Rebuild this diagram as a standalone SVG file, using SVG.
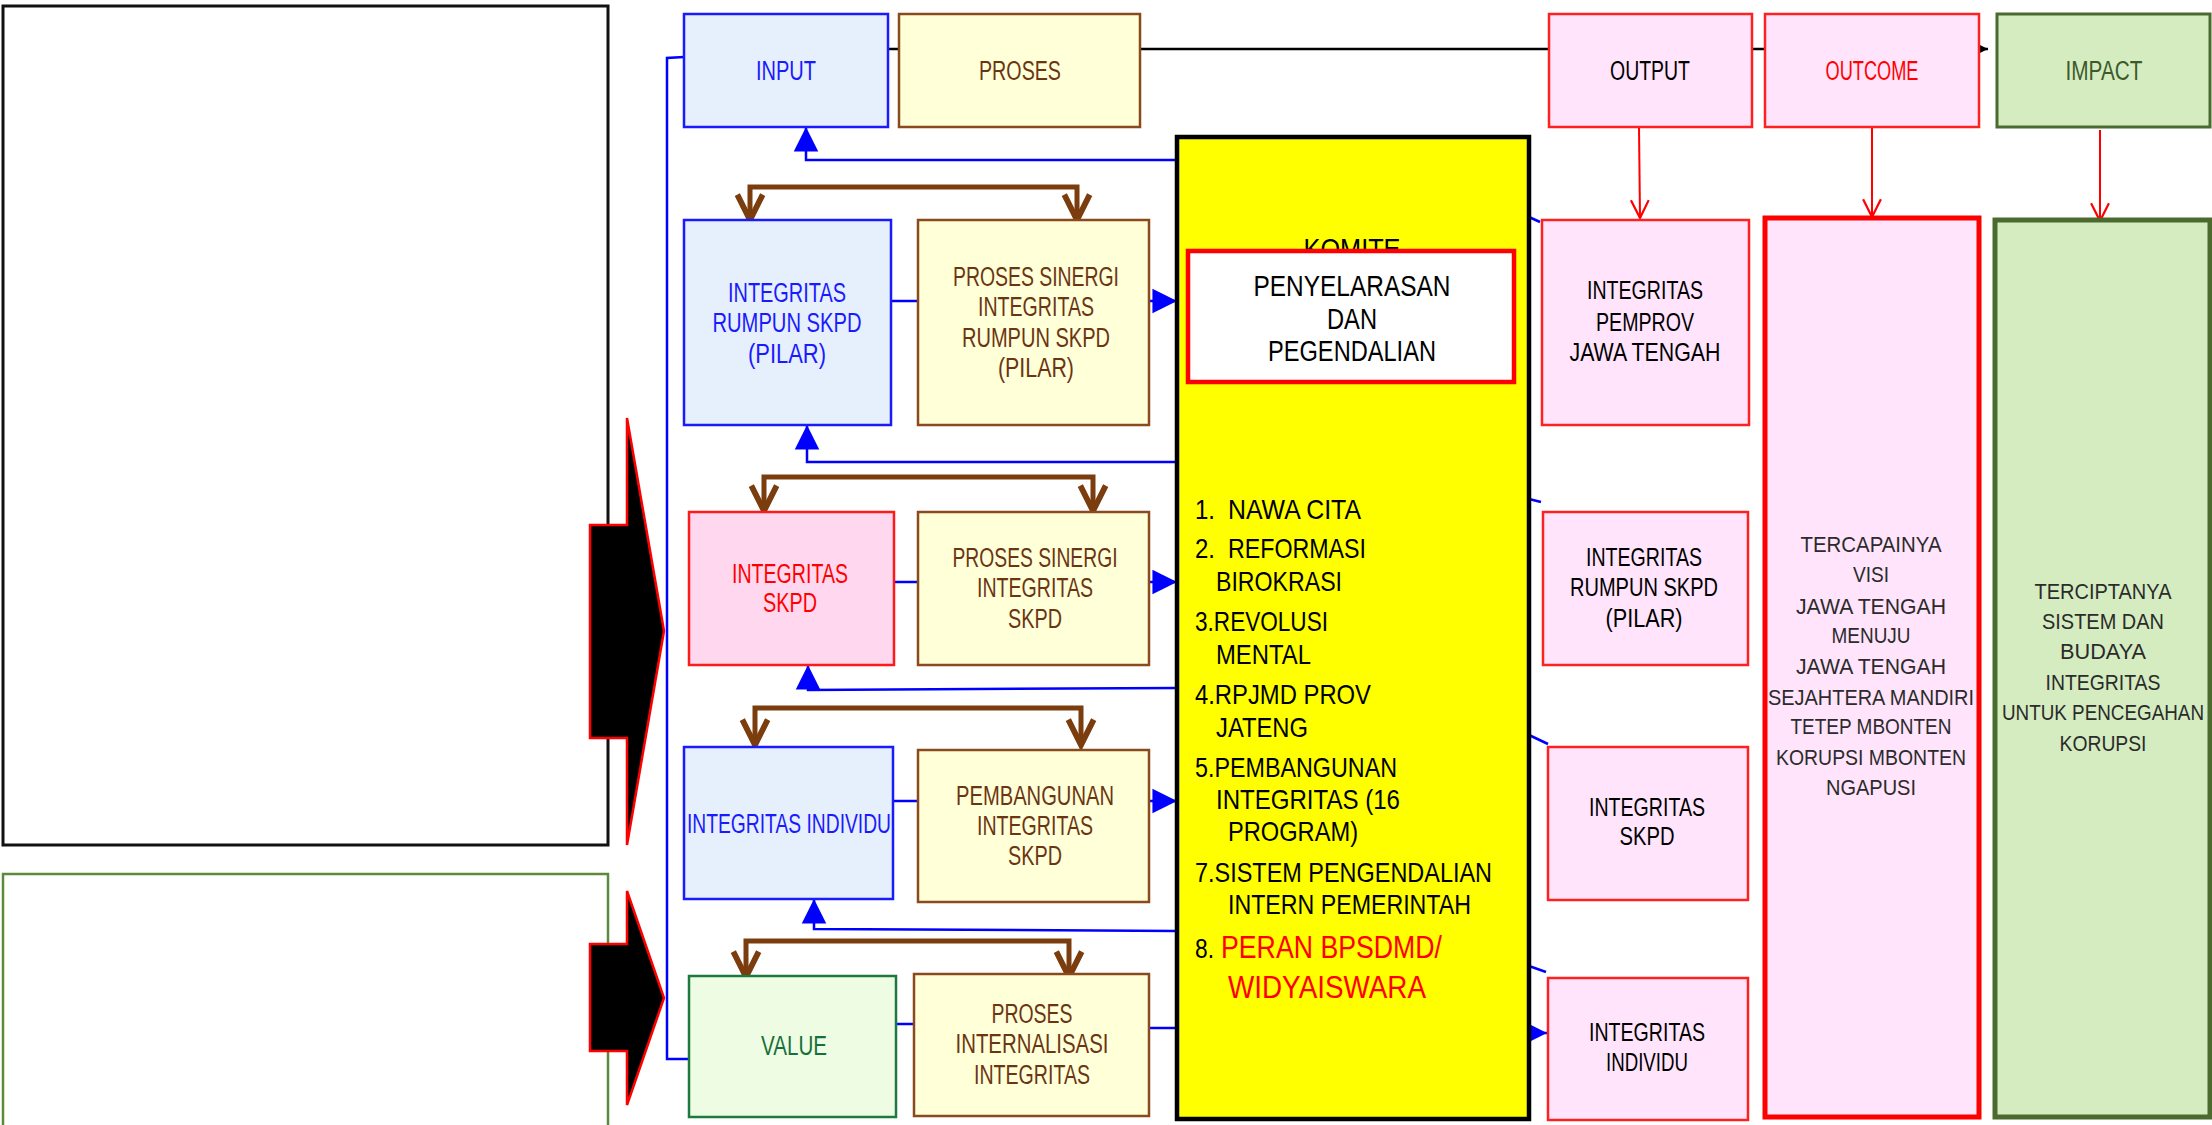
<svg xmlns="http://www.w3.org/2000/svg" width="2212" height="1125" viewBox="0 0 2212 1125">
<style>
text{font-family:"Liberation Sans",Arial,sans-serif;}
.t{font-size:27px;text-anchor:middle;}
.tr{font-size:25px;text-anchor:middle;fill:#000;}
.tl{font-size:28px;fill:#000;}
.ts{font-size:22px;text-anchor:middle;fill:#2b2b2b;}
.blue{fill:#1a1aff;}
.brown{fill:#6b3513;}
.bx{fill:#e6f0fd;stroke:#1a1aff;stroke-width:2.5;}
.px{fill:#ffffd8;stroke:#8b4a1e;stroke-width:2.5;}
.pk{fill:#ffe4fc;stroke:#ff2020;stroke-width:2.5;}
.cb{fill:none;stroke:#0000ff;stroke-width:2.5;}
.cbr{fill:none;stroke:#7b3c0e;stroke-width:5;marker-start:url(#mv);marker-end:url(#mv);}
.cr{fill:none;stroke:#ff0000;stroke-width:2;marker-end:url(#mr);}
.ca{marker-end:url(#mb);}
</style>
<defs>
<marker id="mb" markerUnits="userSpaceOnUse" markerWidth="30" markerHeight="30" refX="0" refY="0" viewBox="-20 -10 22 20" orient="auto" overflow="visible"><path d="M-18,-9 L0,0 L-18,9 Z" fill="#0000ff"/></marker>
<marker id="mv" markerUnits="userSpaceOnUse" markerWidth="30" markerHeight="30" refX="0" refY="0" viewBox="-22 -13 24 26" orient="auto-start-reverse" overflow="visible"><path d="M-22,-11 L0,0 L-22,11" fill="none" stroke="#7b3c0e" stroke-width="5"/></marker>
<marker id="mr" markerUnits="userSpaceOnUse" markerWidth="20" markerHeight="20" refX="0" refY="0" viewBox="-17 -9 18 18" orient="auto" overflow="visible"><path d="M-16,-8 L0,0 L-16,8" fill="none" stroke="#ff0000" stroke-width="2"/></marker>
<marker id="mk" markerUnits="userSpaceOnUse" markerWidth="12" markerHeight="12" refX="0" refY="0" viewBox="-9 -5 10 10" orient="auto" overflow="visible"><path d="M-8,-4 L0,0 L-8,4 Z" fill="#000"/></marker>
</defs>

<g id="left-panels">
<rect x="3" y="6" width="605" height="839" fill="#fff" stroke="#111" stroke-width="3"/>
<rect x="3" y="874" width="605" height="270" fill="#fff" stroke="#5b8a3c" stroke-width="2.5"/>
</g>
<g id="big-arrows" fill="#000" stroke="#ff0000" stroke-width="2.5">
<polygon points="590,525 627,525 627,418 664,631 627,845 627,738 590,738"/>
<polygon points="590,944 627,944 627,891 664,998 627,1105 627,1051 590,1051"/>
</g>

<g id="connectors">
<line x1="888" y1="49" x2="1988" y2="49" stroke="#000" stroke-width="2.5" marker-end="url(#mk)"/>
<polyline class="cb" points="684,57 667,58 667,1059 689,1059"/>
<polyline class="cb ca" points="1177,160 806,160 806,127"/>
<polyline class="cb ca" points="1177,462 807,462 807,425"/>
<polyline class="cb ca" points="1177,688 808,690 808,665"/>
<polyline class="cb ca" points="1177,931 814,929 814,899"/>
<line class="cb" x1="891" y1="301" x2="918" y2="301"/>
<line class="cb ca" x1="1149" y1="301" x2="1177" y2="301"/>
<line class="cb" x1="894" y1="582" x2="918" y2="582"/>
<line class="cb ca" x1="1149" y1="582" x2="1177" y2="582"/>
<line class="cb" x1="893" y1="801" x2="918" y2="801"/>
<line class="cb ca" x1="1149" y1="801" x2="1177" y2="801"/>
<line class="cb" x1="896" y1="1024" x2="914" y2="1024"/>
<line class="cb" x1="1149" y1="1028" x2="1177" y2="1028"/>
<line class="cb" x1="1529" y1="217" x2="1540" y2="222"/>
<line class="cb" x1="1529" y1="499" x2="1541" y2="502"/>
<line class="cb" x1="1529" y1="735" x2="1548" y2="744"/>
<line class="cb" x1="1529" y1="966" x2="1546" y2="972"/>
<line class="cb ca" x1="1529" y1="1033" x2="1547" y2="1033"/>
<path class="cbr" d="M750,220 L750,187 L1077,187 L1077,220"/>
<path class="cbr" d="M764,511 L764,477 L1093,477 L1093,511"/>
<path class="cbr" d="M755,745 L755,708 L1081,708 L1081,745"/>
<path class="cbr" d="M746,977 L746,941 L1069,941 L1069,977"/>
<line class="cr" x1="1639" y1="127" x2="1640" y2="218"/>
<line class="cr" x1="1872" y1="127" x2="1872" y2="217"/>
<line class="cr" x1="2100" y1="130" x2="2100" y2="221"/>
</g>

<g id="input"><rect class="bx" x="684" y="14" width="204" height="113"/><text class="t blue" x="786" y="80" textLength="60" lengthAdjust="spacingAndGlyphs">INPUT</text></g>
<g id="proses"><rect class="px" x="899" y="14" width="241" height="113"/><text class="t brown" x="1020" y="80" textLength="82" lengthAdjust="spacingAndGlyphs">PROSES</text></g>
<g id="output"><rect class="pk" x="1549" y="14" width="203" height="113"/><text class="t" x="1650" y="80" textLength="80" lengthAdjust="spacingAndGlyphs">OUTPUT</text></g>
<g id="outcome"><rect class="pk" x="1765" y="14" width="214" height="113"/><text class="t" x="1872" y="80" fill="#ff0000" textLength="93" lengthAdjust="spacingAndGlyphs">OUTCOME</text></g>
<g id="impact"><rect x="1997" y="14" width="213" height="113" fill="#d4ecc0" stroke="#4b6b2e" stroke-width="3"/><text class="t" x="2104" y="80" fill="#3d5a2a" textLength="77" lengthAdjust="spacingAndGlyphs">IMPACT</text></g>

<g id="integritas-rumpun"><rect class="bx" x="684" y="220" width="207" height="205"/>
<text class="t blue" x="787" y="302" textLength="118" lengthAdjust="spacingAndGlyphs">INTEGRITAS</text>
<text class="t blue" x="787" y="332" textLength="149" lengthAdjust="spacingAndGlyphs">RUMPUN SKPD</text>
<text class="t blue" x="787" y="363" textLength="78" lengthAdjust="spacingAndGlyphs">(PILAR)</text></g>
<g id="proses-sinergi-rumpun"><rect class="px" x="918" y="220" width="231" height="205"/>
<text class="t brown" x="1036" y="286" textLength="166" lengthAdjust="spacingAndGlyphs">PROSES SINERGI</text>
<text class="t brown" x="1036" y="316" textLength="116" lengthAdjust="spacingAndGlyphs">INTEGRITAS</text>
<text class="t brown" x="1036" y="347" textLength="148" lengthAdjust="spacingAndGlyphs">RUMPUN SKPD</text>
<text class="t brown" x="1036" y="377" textLength="76" lengthAdjust="spacingAndGlyphs">(PILAR)</text></g>

<g id="integritas-skpd"><rect x="689" y="512" width="205" height="153" fill="#ffd8ef" stroke="#ff1a1a" stroke-width="2.5"/>
<text class="t" x="790" y="583" fill="#ff0000" textLength="116" lengthAdjust="spacingAndGlyphs">INTEGRITAS</text>
<text class="t" x="790" y="612" fill="#ff0000" textLength="54" lengthAdjust="spacingAndGlyphs">SKPD</text></g>
<g id="proses-sinergi-skpd"><rect class="px" x="918" y="512" width="231" height="153"/>
<text class="t brown" x="1035" y="567" textLength="165" lengthAdjust="spacingAndGlyphs">PROSES SINERGI</text>
<text class="t brown" x="1035" y="597" textLength="116" lengthAdjust="spacingAndGlyphs">INTEGRITAS</text>
<text class="t brown" x="1035" y="628" textLength="54" lengthAdjust="spacingAndGlyphs">SKPD</text></g>

<g id="integritas-individu"><rect class="bx" x="684" y="747" width="209" height="152"/>
<text class="t blue" x="789" y="833" textLength="204" lengthAdjust="spacingAndGlyphs">INTEGRITAS INDIVIDU</text></g>
<g id="pembangunan"><rect class="px" x="918" y="750" width="231" height="152"/>
<text class="t brown" x="1035" y="805" textLength="158" lengthAdjust="spacingAndGlyphs">PEMBANGUNAN</text>
<text class="t brown" x="1035" y="835" textLength="116" lengthAdjust="spacingAndGlyphs">INTEGRITAS</text>
<text class="t brown" x="1035" y="865" textLength="54" lengthAdjust="spacingAndGlyphs">SKPD</text></g>

<g id="value"><rect x="689" y="976" width="207" height="141" fill="#effce4" stroke="#1d7a3e" stroke-width="2.5"/>
<text class="t" x="794" y="1055" fill="#17703a" textLength="66" lengthAdjust="spacingAndGlyphs">VALUE</text></g>
<g id="proses-internalisasi"><rect class="px" x="914" y="974" width="235" height="142"/>
<text class="t brown" x="1032" y="1023" textLength="81" lengthAdjust="spacingAndGlyphs">PROSES</text>
<text class="t brown" x="1032" y="1053" textLength="153" lengthAdjust="spacingAndGlyphs">INTERNALISASI</text>
<text class="t brown" x="1032" y="1084" textLength="116" lengthAdjust="spacingAndGlyphs">INTEGRITAS</text></g>

<g id="komite"><rect x="1177" y="137" width="352" height="982" fill="#ffff00" stroke="#000" stroke-width="4.5"/>
<text x="1352" y="259" font-size="30" text-anchor="middle" fill="#000" textLength="97" lengthAdjust="spacingAndGlyphs">KOMITE</text>
<text class="tl" x="1195" y="519" textLength="20" lengthAdjust="spacingAndGlyphs" font-weight="300">1.</text>
<text class="tl" x="1228" y="519" textLength="133" lengthAdjust="spacingAndGlyphs">NAWA CITA</text>
<text class="tl" x="1195" y="558" textLength="20" lengthAdjust="spacingAndGlyphs">2.</text>
<text class="tl" x="1228" y="558" textLength="138" lengthAdjust="spacingAndGlyphs">REFORMASI</text>
<text class="tl" x="1216" y="591" textLength="126" lengthAdjust="spacingAndGlyphs">BIROKRASI</text>
<text class="tl" x="1195" y="631" textLength="133" lengthAdjust="spacingAndGlyphs">3.REVOLUSI</text>
<text class="tl" x="1216" y="664" textLength="95" lengthAdjust="spacingAndGlyphs">MENTAL</text>
<text class="tl" x="1195" y="704" textLength="176" lengthAdjust="spacingAndGlyphs">4.RPJMD PROV</text>
<text class="tl" x="1216" y="737" textLength="92" lengthAdjust="spacingAndGlyphs">JATENG</text>
<text class="tl" x="1195" y="777" textLength="202" lengthAdjust="spacingAndGlyphs">5.PEMBANGUNAN</text>
<text class="tl" x="1216" y="809" textLength="184" lengthAdjust="spacingAndGlyphs">INTEGRITAS (16</text>
<text class="tl" x="1228" y="841" textLength="130" lengthAdjust="spacingAndGlyphs">PROGRAM)</text>
<text class="tl" x="1195" y="882" textLength="297" lengthAdjust="spacingAndGlyphs">7.SISTEM PENGENDALIAN</text>
<text class="tl" x="1228" y="914" textLength="243" lengthAdjust="spacingAndGlyphs">INTERN PEMERINTAH</text>
<text class="tl" x="1195" y="958" textLength="19" lengthAdjust="spacingAndGlyphs">8.</text>
<text x="1221" y="958" font-size="32" fill="#ff0000" textLength="221" lengthAdjust="spacingAndGlyphs">PERAN BPSDMD/</text>
<text x="1228" y="998" font-size="32" fill="#ff0000" textLength="198" lengthAdjust="spacingAndGlyphs">WIDYAISWARA</text>
</g>
<g id="penyelarasan"><rect x="1188" y="251" width="326" height="131" fill="#fff" stroke="#ff0000" stroke-width="4.5"/>
<text x="1352" y="296" font-size="30" text-anchor="middle" textLength="197" lengthAdjust="spacingAndGlyphs">PENYELARASAN</text>
<text x="1352" y="329" font-size="30" text-anchor="middle" textLength="50" lengthAdjust="spacingAndGlyphs">DAN</text>
<text x="1352" y="361" font-size="30" text-anchor="middle" textLength="168" lengthAdjust="spacingAndGlyphs">PEGENDALIAN</text></g>

<g id="integritas-pemprov"><rect class="pk" x="1542" y="220" width="207" height="205"/>
<text class="tr" x="1645" y="299" textLength="116" lengthAdjust="spacingAndGlyphs">INTEGRITAS</text>
<text class="tr" x="1645" y="331" textLength="98" lengthAdjust="spacingAndGlyphs">PEMPROV</text>
<text class="tr" x="1645" y="361" textLength="151" lengthAdjust="spacingAndGlyphs">JAWA TENGAH</text></g>
<g id="out-integritas-rumpun"><rect class="pk" x="1543" y="512" width="205" height="153"/>
<text class="tr" x="1644" y="566" textLength="116" lengthAdjust="spacingAndGlyphs">INTEGRITAS</text>
<text class="tr" x="1644" y="596" textLength="148" lengthAdjust="spacingAndGlyphs">RUMPUN SKPD</text>
<text class="tr" x="1644" y="627" textLength="77" lengthAdjust="spacingAndGlyphs">(PILAR)</text></g>
<g id="out-integritas-skpd"><rect class="pk" x="1548" y="747" width="200" height="153"/>
<text class="tr" x="1647" y="816" textLength="116" lengthAdjust="spacingAndGlyphs">INTEGRITAS</text>
<text class="tr" x="1647" y="845" textLength="55" lengthAdjust="spacingAndGlyphs">SKPD</text></g>
<g id="out-integritas-individu"><rect class="pk" x="1548" y="978" width="200" height="142"/>
<text class="tr" x="1647" y="1041" textLength="116" lengthAdjust="spacingAndGlyphs">INTEGRITAS</text>
<text class="tr" x="1647" y="1071" textLength="82" lengthAdjust="spacingAndGlyphs">INDIVIDU</text></g>

<g id="outcome-detail"><rect x="1765" y="218" width="214" height="899" fill="#ffe4fc" stroke="#ff0000" stroke-width="5"/>
<text class="ts" x="1871" y="552" textLength="141" lengthAdjust="spacingAndGlyphs">TERCAPAINYA</text>
<text class="ts" x="1871" y="582" textLength="36" lengthAdjust="spacingAndGlyphs">VISI</text>
<text class="ts" x="1871" y="614" textLength="150" lengthAdjust="spacingAndGlyphs">JAWA TENGAH</text>
<text class="ts" x="1871" y="643" textLength="79" lengthAdjust="spacingAndGlyphs">MENUJU</text>
<text class="ts" x="1871" y="674" textLength="150" lengthAdjust="spacingAndGlyphs">JAWA TENGAH</text>
<text class="ts" x="1871" y="705" textLength="206" lengthAdjust="spacingAndGlyphs">SEJAHTERA MANDIRI</text>
<text class="ts" x="1871" y="734" textLength="161" lengthAdjust="spacingAndGlyphs">TETEP MBONTEN</text>
<text class="ts" x="1871" y="765" textLength="190" lengthAdjust="spacingAndGlyphs">KORUPSI MBONTEN</text>
<text class="ts" x="1871" y="795" textLength="90" lengthAdjust="spacingAndGlyphs">NGAPUSI</text></g>
<g id="impact-detail"><rect x="1995" y="220" width="215" height="897" fill="#d4ecc0" stroke="#4b6b2e" stroke-width="5"/>
<text class="ts" x="2103" y="599" textLength="137" lengthAdjust="spacingAndGlyphs">TERCIPTANYA</text>
<text class="ts" x="2103" y="629" textLength="122" lengthAdjust="spacingAndGlyphs">SISTEM DAN</text>
<text class="ts" x="2103" y="659" textLength="86" lengthAdjust="spacingAndGlyphs">BUDAYA</text>
<text class="ts" x="2103" y="690" textLength="115" lengthAdjust="spacingAndGlyphs">INTEGRITAS</text>
<text class="ts" x="2103" y="720" textLength="202" lengthAdjust="spacingAndGlyphs">UNTUK PENCEGAHAN</text>
<text class="ts" x="2103" y="751" textLength="87" lengthAdjust="spacingAndGlyphs">KORUPSI</text></g>
</svg>
